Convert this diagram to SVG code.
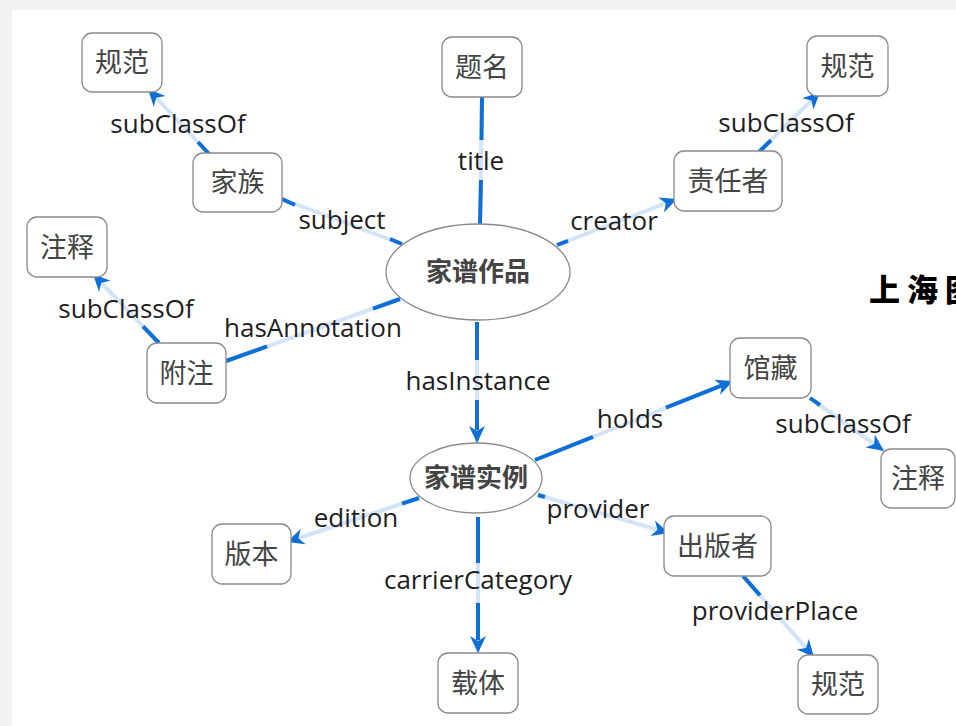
<svg xmlns="http://www.w3.org/2000/svg" width="956" height="726" viewBox="0 0 956 726">
<style>
.bg{fill:#f2f2f2}
.panel{fill:#ffffff}
.box{fill:#ffffff;stroke:#8a8a8a;stroke-width:1.3}
.ell{fill:#ffffff;stroke:#8a8a8a;stroke-width:1.3}
.nt{font-family:"Noto Sans CJK SC","Noto Sans",sans-serif;font-size:27px;fill:#444444;text-anchor:middle}
.et{font-family:"Noto Sans CJK SC","Noto Sans",sans-serif;font-size:26px;font-weight:bold;fill:#444444;text-anchor:middle}
.lt{font-family:"Open Sans","Noto Sans",sans-serif;font-size:26px;fill:#1e1e1e;text-anchor:middle}
.lite{stroke:#d3e4f8;stroke-width:4;fill:none}
.blue{stroke:#0f6fd8;stroke-width:4;fill:none}
.arr{stroke:#d3e4f8;stroke-width:4;fill:none;marker-end:url(#ah)}
.cal{font-family:"Noto Sans CJK SC",sans-serif;font-size:31px;font-weight:900;fill:#000000;letter-spacing:7px}
</style>
<defs>
<marker id="ah" viewBox="-18 -10 20 20" refX="0" refY="0" markerWidth="20" markerHeight="20" markerUnits="userSpaceOnUse" orient="auto">
<path d="M0,0 L-17,-8 L-12,0 L-17,8 Z" fill="#0f6fd8"/>
</marker>
</defs>
<rect class="bg" x="0" y="0" width="956" height="726"/>
<rect class="panel" x="12" y="10" width="944" height="716"/>
<text class="cal" x="869" y="301">上海图</text>
<g id="connectors">
<line class="arr" x1="209" y1="154" x2="148" y2="89"/>
<line class="blue" x1="209" y1="154" x2="198" y2="142"/>
<line class="lite" x1="282" y1="199" x2="402" y2="244"/>
<line class="blue" x1="282" y1="199" x2="295" y2="205"/>
<line class="blue" x1="390" y1="239" x2="402" y2="244"/>
<line class="lite" x1="482" y1="97" x2="480" y2="224"/>
<line class="blue" x1="482" y1="97" x2="481.5" y2="140"/>
<line class="blue" x1="481" y1="180" x2="480" y2="224"/>
<line class="arr" x1="557" y1="245" x2="677" y2="199"/>
<line class="blue" x1="557" y1="245" x2="568" y2="240.8"/>
<line class="arr" x1="759" y1="152" x2="820" y2="92"/>
<line class="blue" x1="759" y1="152" x2="771" y2="140.2"/>
<line class="arr" x1="159" y1="343" x2="93" y2="274"/>
<line class="blue" x1="159" y1="343" x2="143" y2="326.3"/>
<line class="lite" x1="226" y1="361" x2="400" y2="299"/>
<line class="blue" x1="226" y1="361" x2="267" y2="346.4"/>
<line class="blue" x1="373" y1="308.6" x2="400" y2="299"/>
<line class="arr" x1="477" y1="322" x2="477" y2="443"/>
<line class="blue" x1="477" y1="322" x2="477" y2="360"/>
<line class="blue" x1="477" y1="400" x2="477" y2="430"/>
<line class="arr" x1="535" y1="460" x2="733" y2="381"/>
<line class="blue" x1="535" y1="460" x2="593" y2="436.9"/>
<line class="blue" x1="666" y1="407.7" x2="722" y2="385.4"/>
<line class="arr" x1="810" y1="398" x2="884" y2="451"/>
<line class="blue" x1="810" y1="398" x2="820" y2="405.2"/>
<line class="arr" x1="419" y1="498" x2="287" y2="542"/>
<line class="blue" x1="419" y1="498" x2="402" y2="503.7"/>
<line class="arr" x1="538" y1="495" x2="669" y2="533"/>
<line class="blue" x1="538" y1="495" x2="545" y2="497"/>
<line class="arr" x1="478" y1="517" x2="478" y2="653"/>
<line class="blue" x1="478" y1="517" x2="478" y2="563"/>
<line class="blue" x1="478" y1="603" x2="478" y2="640"/>
<line class="arr" x1="743" y1="576" x2="814" y2="657"/>
<line class="blue" x1="743" y1="576" x2="760" y2="595.4"/>
<text class="lt" x="178" y="133">subClassOf</text>
<text class="lt" x="481" y="170">title</text>
<text class="lt" x="342" y="229">subject</text>
<text class="lt" x="614" y="230">creator</text>
<text class="lt" x="786" y="132">subClassOf</text>
<text class="lt" x="126" y="318">subClassOf</text>
<text class="lt" x="313" y="337">hasAnnotation</text>
<text class="lt" x="478" y="390">hasInstance</text>
<text class="lt" x="630" y="428">holds</text>
<text class="lt" x="843" y="433">subClassOf</text>
<text class="lt" x="356" y="527">edition</text>
<text class="lt" x="598" y="518">provider</text>
<text class="lt" x="478" y="589">carrierCategory</text>
<text class="lt" x="775" y="620">providerPlace</text>
</g>
<g id="n_guifan1"><rect class="box" x="82" y="33" width="80" height="59" rx="10"/><text class="nt" x="122" y="72">规范</text></g>
<g id="n_jiazu"><rect class="box" x="193" y="153" width="89" height="59" rx="10"/><text class="nt" x="237.5" y="192">家族</text></g>
<g id="n_timing"><rect class="box" x="442" y="37" width="80" height="60" rx="10"/><text class="nt" x="482" y="76.5">题名</text></g>
<g id="n_guifan2"><rect class="box" x="807" y="36" width="81" height="60" rx="10"/><text class="nt" x="847.5" y="75.5">规范</text></g>
<g id="n_zeren"><rect class="box" x="674" y="151" width="108" height="60" rx="10"/><text class="nt" x="728" y="190.5">责任者</text></g>
<g id="n_zhushi1"><rect class="box" x="27" y="217" width="80" height="60" rx="10"/><text class="nt" x="67" y="256.5">注释</text></g>
<g id="n_fuzhu"><rect class="box" x="147" y="343" width="79" height="60" rx="10"/><text class="nt" x="186.5" y="382.5">附注</text></g>
<g id="n_work"><ellipse class="ell" cx="478" cy="272" rx="92" ry="48"/><text class="et" x="478" y="281">家谱作品</text></g>
<g id="n_guancang"><rect class="box" x="730" y="338" width="81" height="60" rx="10"/><text class="nt" x="770.5" y="377.5">馆藏</text></g>
<g id="n_zhushi2"><rect class="box" x="881" y="449" width="74" height="59" rx="10"/><text class="nt" x="918" y="488">注释</text></g>
<g id="n_instance"><ellipse class="ell" cx="476" cy="478" rx="66" ry="35"/><text class="et" x="476" y="487">家谱实例</text></g>
<g id="n_banben"><rect class="box" x="212" y="524" width="79" height="60" rx="10"/><text class="nt" x="251.5" y="563.5">版本</text></g>
<g id="n_zaiti"><rect class="box" x="438" y="653" width="80" height="60" rx="10"/><text class="nt" x="478" y="692.5">载体</text></g>
<g id="n_chuban"><rect class="box" x="664" y="516" width="107" height="60" rx="10"/><text class="nt" x="717.5" y="555.5">出版者</text></g>
<g id="n_guifan3"><rect class="box" x="798" y="655" width="80" height="59" rx="10"/><text class="nt" x="838" y="694">规范</text></g>
</svg>
